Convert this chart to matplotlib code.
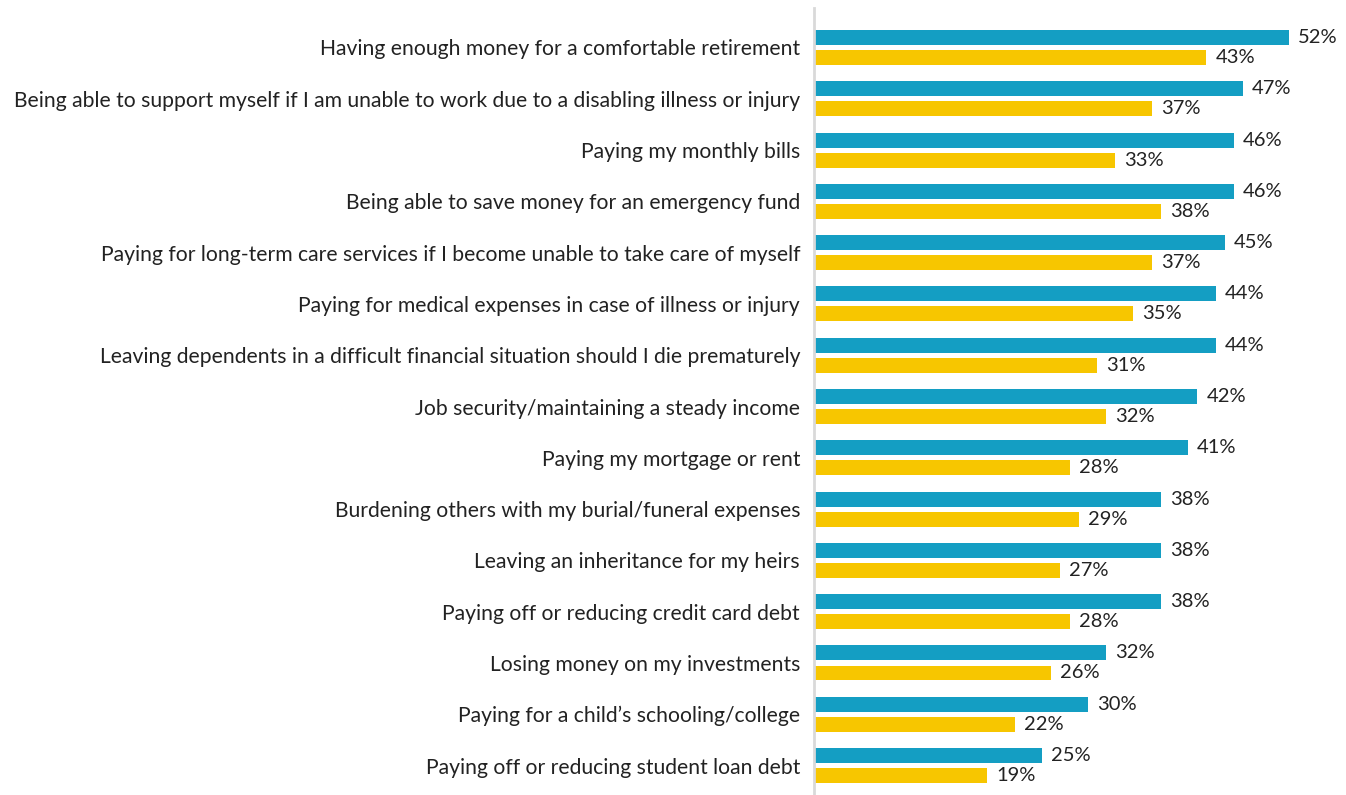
import matplotlib
matplotlib.use("Agg")
import matplotlib.pyplot as plt

categories = [
    "Having enough money for a comfortable retirement",
    "Being able to support myself if I am unable to work due to a disabling illness or injury",
    "Paying my monthly bills",
    "Being able to save money for an emergency fund",
    "Paying for long-term care services if I become unable to take care of myself",
    "Paying for medical expenses in case of illness or injury",
    "Leaving dependents in a difficult financial situation should I die prematurely",
    "Job security/maintaining a steady income",
    "Paying my mortgage or rent",
    "Burdening others with my burial/funeral expenses",
    "Leaving an inheritance for my heirs",
    "Paying off or reducing credit card debt",
    "Losing money on my investments",
    "Paying for a child\u2019s schooling/college",
    "Paying off or reducing student loan debt",
]
series_blue = [52, 47, 46, 46, 45, 44, 44, 42, 41, 38, 38, 38, 32, 30, 25]
series_yellow = [43, 37, 33, 38, 37, 35, 31, 32, 28, 29, 27, 28, 26, 22, 19]

BLUE = "#149EC3"
YELLOW = "#F7C600"

plt.rcParams["font.family"] = ["Lato", "DejaVu Sans"]

fig = plt.figure(figsize=(13.46, 7.95), dpi=100)
ax = fig.add_axes([814 / 1346, 0, 1 - 814 / 1346, 1 - 8 / 795])

ys = list(range(len(categories)))
off = 0.195
h = 0.29
ax.barh([y - off for y in ys], series_blue, height=h, color=BLUE)
ax.barh([y + off for y in ys], series_yellow, height=h, color=YELLOW)

for y, v in zip(ys, series_blue):
    ax.annotate(f"{v}%", (v, y - off), xytext=(6.5, 0), textcoords="offset points",
                va="center", ha="left", fontsize=14.5, color="#222222")
for y, v in zip(ys, series_yellow):
    ax.annotate(f"{v}%", (v, y + off), xytext=(6.5, 0), textcoords="offset points",
                va="center", ha="left", fontsize=14.5, color="#222222")

ax.set_xlim(0, 58.3)
ax.set_ylim(14.575, -0.77)
ax.set_yticks(ys)
ax.set_yticklabels(categories, fontsize=15.2, color="#222222")
ax.tick_params(axis="y", length=0, pad=10)
ax.set_xticks([])
for s in ["top", "right", "bottom"]:
    ax.spines[s].set_visible(False)
ax.spines["left"].set_color("#D9D9D9")
ax.spines["left"].set_linewidth(2)

fig.savefig("out.png", dpi=100)
